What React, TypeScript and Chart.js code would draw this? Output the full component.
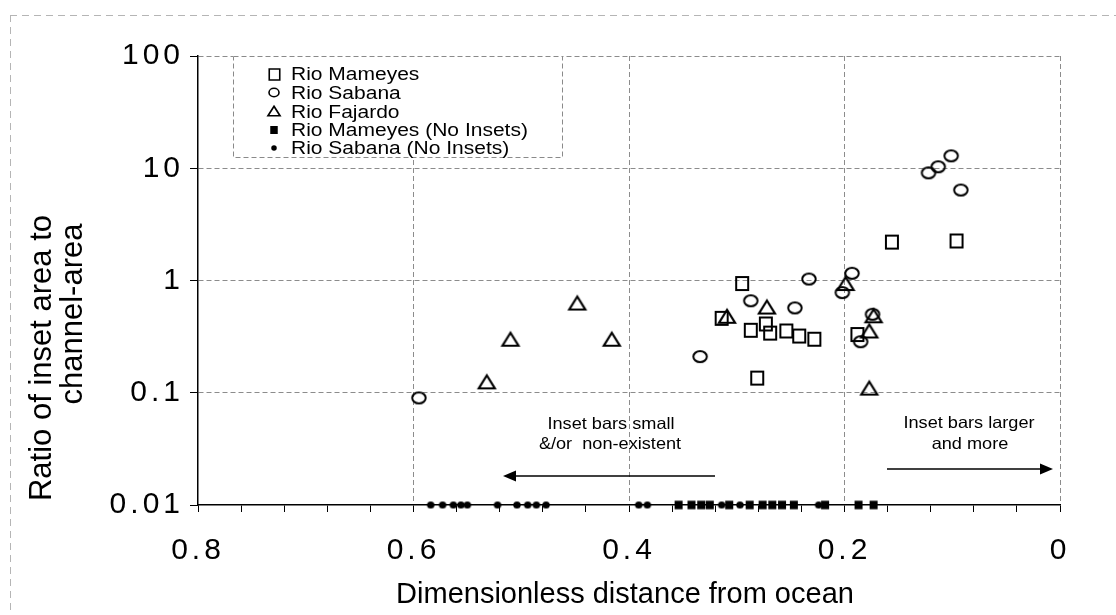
import { useEffect, useRef } from 'react';
import { Chart, registerables } from 'chart.js';

Chart.register(...registerables);

// ---------- data ----------
const mameyesX = [0.295, 0.314, 0.287, 0.273, 0.269, 0.254, 0.242, 0.228, 0.281, 0.188, 0.156, 0.096];
const mameyesY = [0.94, 0.46, 0.36, 0.41, 0.34, 0.355, 0.32, 0.30, 0.135, 0.33, 2.2, 2.25];

const sabanaX = [0.233, 0.287, 0.246, 0.334, 0.193, 0.202, 0.595, 0.122, 0.113, 0.101, 0.092, 0.174, 0.185];
const sabanaY = [1.03, 0.66, 0.57, 0.21, 1.16, 0.78, 0.09, 9.1, 10.3, 12.9, 6.4, 0.50, 0.285];

const fajardoX = [0.448, 0.510, 0.416, 0.532, 0.309, 0.272, 0.199, 0.173, 0.177, 0.177];
const fajardoY = [0.63, 0.30, 0.30, 0.125, 0.48, 0.58, 0.94, 0.485, 0.355, 0.11];

const mameyesNoInsetX = [0.354, 0.342, 0.333, 0.325, 0.307, 0.288, 0.276, 0.267, 0.258, 0.247, 0.218, 0.187, 0.173];
const mameyesNoInsetY = [0.01, 0.01, 0.01, 0.01, 0.01, 0.01, 0.01, 0.01, 0.01, 0.01, 0.01, 0.01, 0.01];

const sabanaNoInsetX = [0.584, 0.573, 0.563, 0.556, 0.550, 0.522, 0.504, 0.494, 0.486, 0.477, 0.391, 0.383, 0.314, 0.297, 0.224];
const sabanaNoInsetY = [0.01, 0.01, 0.01, 0.01, 0.01, 0.01, 0.01, 0.01, 0.01, 0.01, 0.01, 0.01, 0.01, 0.01, 0.01];

const seriesNames = [
  'Rio Mameyes',
  'Rio Sabana',
  'Rio Fajardo',
  'Rio Mameyes (No Insets)',
  'Rio Sabana (No Insets)',
];

const xMajorValues = [0, 0.2, 0.4, 0.6, 0.8];
const xMajorLabels = ['0', '0.2', '0.4', '0.6', '0.8'];
const xMinorStep = 0.04;

const yTickValues = [0.01, 0.1, 1, 10, 100];
const yTickLabels = ['0.01', '0.1', '1', '10', '100'];

const xTitle = 'Dimensionless distance from ocean';
const yTitleLines = ['Ratio of inset area to', 'channel-area'];
const leftNote = ['Inset bars small', '&/or  non-existent'];
const rightNote = ['Inset bars larger', 'and more'];

// ---------- helpers ----------
type Kind = 'rect' | 'circle' | 'triangle';

function makeMarker(kind: Kind, w: number, h: number, filled: boolean, lw: number): HTMLCanvasElement {
  const pad = Math.ceil(lw) + 1;
  const c = document.createElement('canvas');
  c.width = Math.round(w + 2 * pad);
  c.height = Math.round(h + 2 * pad);
  const ctx = c.getContext('2d') as CanvasRenderingContext2D;
  const cx = c.width / 2;
  const cy = c.height / 2;
  ctx.strokeStyle = '#000';
  ctx.fillStyle = '#000';
  ctx.lineWidth = lw;
  ctx.lineJoin = 'miter';
  ctx.beginPath();
  if (kind === 'rect') {
    ctx.rect(cx - w / 2, cy - h / 2, w, h);
  } else if (kind === 'circle') {
    ctx.ellipse(cx, cy, w / 2, h / 2, 0, 0, Math.PI * 2);
  } else {
    ctx.moveTo(cx, cy - h / 2);
    ctx.lineTo(cx + w / 2, cy + h / 2);
    ctx.lineTo(cx - w / 2, cy + h / 2);
    ctx.closePath();
  }
  if (filled) ctx.fill();
  else ctx.stroke();
  return c;
}

function pts(xs: number[], ys: number[]) {
  return xs.map((x, i) => ({ x, y: ys[i] }));
}

function isMajor(v: number) {
  return Math.abs(v * 5 - Math.round(v * 5)) < 1e-6;
}

function drawStretchedText(ctx: CanvasRenderingContext2D, text: string, cx: number, baseline: number, sx: number, align: CanvasTextAlign) {
  ctx.save();
  ctx.translate(cx, baseline);
  ctx.scale(sx, 1);
  ctx.textAlign = align;
  ctx.textBaseline = 'alphabetic';
  ctx.fillText(text, 0, 0);
  ctx.restore();
}

function arrow(ctx: CanvasRenderingContext2D, x1: number, x2: number, y: number) {
  const dir = x2 > x1 ? 1 : -1;
  const headLen = 13;
  const headHalf = 5.5;
  ctx.save();
  ctx.strokeStyle = '#000';
  ctx.fillStyle = '#000';
  ctx.lineWidth = 1.6;
  ctx.beginPath();
  ctx.moveTo(x1, y);
  ctx.lineTo(x2 - dir * headLen, y);
  ctx.stroke();
  ctx.beginPath();
  ctx.moveTo(x2, y);
  ctx.lineTo(x2 - dir * headLen, y - headHalf);
  ctx.lineTo(x2 - dir * headLen, y + headHalf);
  ctx.closePath();
  ctx.fill();
  ctx.restore();
}

const FONT = '"Liberation Sans", Arial, Helvetica, sans-serif';

export default function App() {
  const ref = useRef<HTMLCanvasElement | null>(null);

  useEffect(() => {
    const canvas = ref.current;
    if (!canvas) return;

    const mSquare = makeMarker('rect', 12, 13, false, 2);
    const mCircle = makeMarker('circle', 13.5, 11, false, 2);
    const mTri = makeMarker('triangle', 16, 13, false, 2.2);
    const mSquareF = makeMarker('rect', 8, 8.5, true, 1);
    const mDotF = makeMarker('circle', 7.5, 7, true, 1);

    const lSquare = makeMarker('rect', 10.5, 11, false, 1.6);
    const lCircle = makeMarker('circle', 10, 8.5, false, 1.6);
    const lTri = makeMarker('triangle', 12, 9.5, false, 1.7);
    const lSquareF = makeMarker('rect', 7.5, 8, true, 1);
    const lDotF = makeMarker('circle', 5.5, 5.5, true, 1);
    const legendMarkers = [lSquare, lCircle, lTri, lSquareF, lDotF];

    const overlay = {
      id: 'overlay',
      beforeDraw(chart: any) {
        const ctx = chart.ctx as CanvasRenderingContext2D;
        ctx.save();
        ctx.fillStyle = '#fff';
        ctx.fillRect(0, 0, chart.width, chart.height);
        // faint outer frame of the scanned figure
        ctx.strokeStyle = '#b5b5b5';
        ctx.lineWidth = 1;
        ctx.setLineDash([7, 5]);
        ctx.beginPath();
        ctx.moveTo(10, 15.5);
        ctx.lineTo(chart.width, 15.5);
        ctx.moveTo(10.5, 15);
        ctx.lineTo(10.5, chart.height);
        ctx.stroke();
        ctx.restore();
        (ctx as any).letterSpacing = '4px';
      },
      beforeDatasetsDraw(chart: any) {
        const ctx = chart.ctx as CanvasRenderingContext2D;
        (ctx as any).letterSpacing = '0px';
      },
      afterDraw(chart: any) {
        const ctx = chart.ctx as CanvasRenderingContext2D;
        (ctx as any).letterSpacing = '0px';
        const area = chart.chartArea;

        // legend box
        const lx1 = 233, lx2 = 562, ly1 = area.top, ly2 = 157;
        ctx.save();
        ctx.fillStyle = '#fff';
        ctx.fillRect(lx1, ly1, lx2 - lx1, ly2 - ly1);
        ctx.strokeStyle = '#8a8a8a';
        ctx.lineWidth = 1;
        ctx.setLineDash([5, 3]);
        ctx.strokeRect(lx1 + 0.5, ly1 + 0.5, lx2 - lx1, ly2 - ly1);
        ctx.setLineDash([]);
        ctx.fillStyle = '#000';
        ctx.font = `17.5px ${FONT}`;
        const rowY = [74, 92.5, 111.3, 130, 147.5];
        seriesNames.forEach((name, i) => {
          const m = legendMarkers[i];
          ctx.drawImage(m, Math.round(274 - m.width / 2), Math.round(rowY[i] - m.height / 2));
          drawStretchedText(ctx, name, 291, rowY[i] + 6.3, 1.2, 'left');
        });
        ctx.restore();

        // annotations
        ctx.save();
        ctx.fillStyle = '#000';
        ctx.font = `16.5px ${FONT}`;
        drawStretchedText(ctx, leftNote[0], 611, 429, 1.1, 'center');
        drawStretchedText(ctx, leftNote[1], 610, 449, 1.1, 'center');
        drawStretchedText(ctx, rightNote[0], 969, 428, 1.1, 'center');
        drawStretchedText(ctx, rightNote[1], 970, 449, 1.1, 'center');
        ctx.restore();
        arrow(ctx, 715, 503, 476);
        arrow(ctx, 887, 1053, 469);

        // axis titles
        ctx.save();
        ctx.fillStyle = '#000';
        ctx.font = `29px ${FONT}`;
        ctx.textAlign = 'center';
        ctx.textBaseline = 'middle';
        ctx.fillText(xTitle, (area.left + area.right) / 2 - 4, 595);
        ctx.font = `31px ${FONT}`;
        ctx.translate(57, 358);
        ctx.rotate(-Math.PI / 2);
        ctx.fillText(yTitleLines[0], 0, -15);
        ctx.fillText(yTitleLines[1], 44, 16);
        ctx.restore();
      },
    };

    const xTicks: number[] = [];
    for (let i = 0; i <= 20; i++) xTicks.push(i * xMinorStep);

    const chart = new Chart(canvas, {
      type: 'scatter',
      data: {
        datasets: [
          { label: seriesNames[0], data: pts(mameyesX, mameyesY), pointStyle: mSquare as any, clip: false as any },
          { label: seriesNames[1], data: pts(sabanaX, sabanaY), pointStyle: mCircle as any, clip: false as any },
          { label: seriesNames[2], data: pts(fajardoX, fajardoY), pointStyle: mTri as any, clip: false as any },
          { label: seriesNames[3], data: pts(mameyesNoInsetX, mameyesNoInsetY), pointStyle: mSquareF as any, clip: false as any },
          { label: seriesNames[4], data: pts(sabanaNoInsetX, sabanaNoInsetY), pointStyle: mDotF as any, clip: false as any },
        ],
      },
      options: {
        animation: false,
        responsive: false,
        devicePixelRatio: 1,
        layout: { padding: { top: 56, right: 56, left: 0, bottom: 0 } },
        plugins: { legend: { display: false }, tooltip: { enabled: false } },
        scales: {
          x: {
            type: 'linear',
            reverse: true,
            min: 0,
            max: 0.8,
            afterBuildTicks: (s: any) => {
              s.ticks = xTicks.map((v) => ({ value: v }));
            },
            afterFit: (s: any) => {
              s.height = 110;
            },
            ticks: {
              autoSkip: false,
              maxRotation: 0,
              padding: 21,
              color: '#000',
              font: { family: FONT, size: 30 },
              callback: (v: any) => {
                const val = Number(v);
                if (!isMajor(val)) return '';
                const idx = xMajorValues.findIndex((m) => Math.abs(m - val) < 1e-6);
                return idx >= 0 ? xMajorLabels[idx] : '';
              },
            },
            grid: {
              color: (c: any) => {
                const v = c.tick ? c.tick.value : 0;
                return isMajor(v) && v < 0.79 ? '#8c8c8c' : 'rgba(0,0,0,0)';
              },
              lineWidth: 1,
              tickColor: '#000',
              tickLength: 7,
              tickWidth: 1,
            },
            border: { display: true, color: '#000', width: 1.5, dash: [5, 3] },
          },
          y: {
            type: 'logarithmic',
            min: 0.01,
            max: 100,
            afterBuildTicks: (s: any) => {
              s.ticks = yTickValues.map((v) => ({ value: v }));
            },
            afterFit: (s: any) => {
              s.width = 198;
            },
            ticks: {
              autoSkip: false,
              padding: 6,
              color: '#000',
              font: { family: FONT, size: 30 },
              callback: (_v: any, i: number) => yTickLabels[i],
            },
            grid: {
              color: (c: any) => {
                const v = c.tick ? c.tick.value : 0;
                return v > 0.011 ? '#8c8c8c' : 'rgba(0,0,0,0)';
              },
              lineWidth: 1,
              tickColor: '#000',
              tickLength: 8,
              tickWidth: 1,
            },
            border: { display: true, color: '#000', width: 1.5, dash: [5, 3] },
          },
        },
      } as any,
      plugins: [overlay],
    });

    return () => {
      chart.destroy();
    };
  }, []);

  return (
    <div style={{ position: 'absolute', left: 0, top: 0, width: 1116, height: 615, background: '#fff' }}>
      <canvas ref={ref} width={1116} height={615} style={{ display: 'block', width: 1116, height: 615 }} />
    </div>
  );
}
